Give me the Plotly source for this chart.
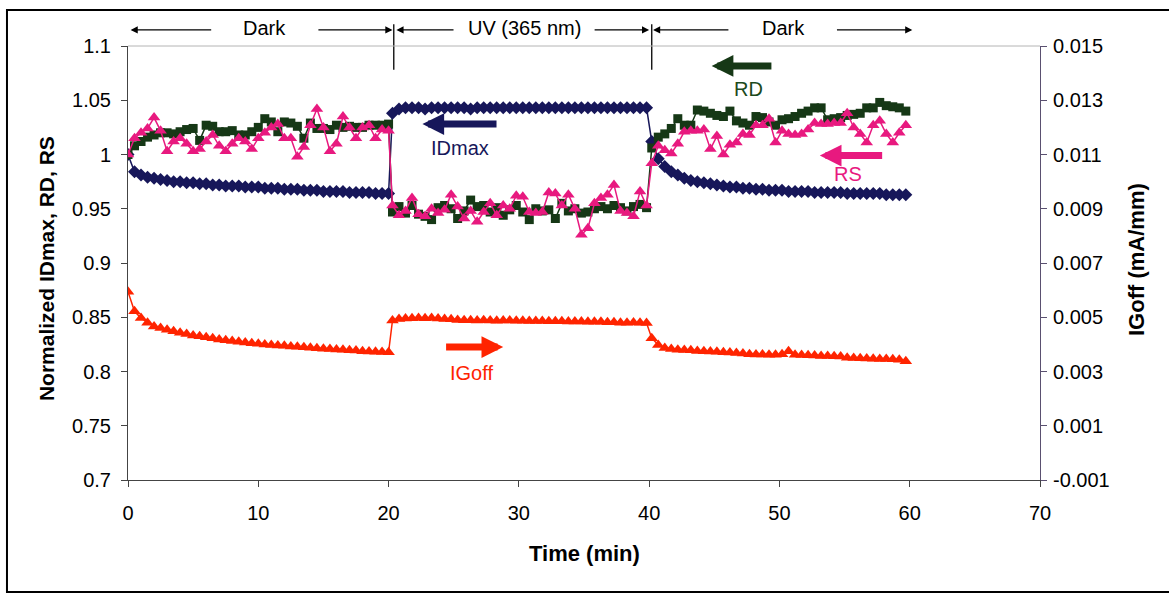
import plotly.graph_objects as go

# ---- sampling times (min) for the three phases: dark / UV (365 nm) / dark ----
t_dark1 = [0.0, 0.5, 1.0, 1.5, 2.0, 2.5, 3.0, 3.5, 4.0, 4.5, 5.0, 5.5, 6.0, 6.5, 7.0, 7.5,
           8.0, 8.5, 9.0, 9.5, 10.0, 10.5, 11.0, 11.5, 12.0, 12.5, 13.0, 13.5, 14.0, 14.5,
           15.0, 15.5, 16.0, 16.5, 17.0, 17.5, 18.0, 18.5, 19.0, 19.5, 20.0]
t_uv = [20.3, 20.8, 21.3, 21.8, 22.3, 22.8, 23.3, 23.8, 24.3, 24.8, 25.3, 25.8, 26.3, 26.8,
        27.3, 27.8, 28.3, 28.8, 29.3, 29.8, 30.3, 30.8, 31.3, 31.8, 32.3, 32.8, 33.3, 33.8,
        34.3, 34.8, 35.3, 35.8, 36.3, 36.8, 37.3, 37.8, 38.3, 38.8, 39.3, 39.8]
t_dark2 = [40.2, 40.7, 41.2, 41.7, 42.2, 42.7, 43.2, 43.7, 44.2, 44.7, 45.2, 45.7, 46.2, 46.7,
           47.2, 47.7, 48.2, 48.7, 49.2, 49.7, 50.2, 50.7, 51.2, 51.7, 52.2, 52.7, 53.2, 53.7,
           54.2, 54.7, 55.2, 55.7, 56.2, 56.7, 57.2, 57.7, 58.2, 58.7, 59.2, 59.7]

# ---- normalized IDmax ----
idmax_dark1 = [1.000, 0.984, 0.981, 0.979, 0.978, 0.977, 0.976, 0.975, 0.975, 0.974, 0.974,
               0.973, 0.973, 0.972, 0.972, 0.971, 0.971, 0.971, 0.970, 0.970, 0.970, 0.969,
               0.969, 0.969, 0.968, 0.968, 0.968, 0.967, 0.967, 0.967, 0.966, 0.966, 0.966,
               0.966, 0.965, 0.965, 0.965, 0.965, 0.964, 0.964, 0.964]
idmax_uv = [1.038, 1.042, 1.043, 1.043, 1.043, 1.042, 1.043, 1.043, 1.043, 1.043,
            1.043, 1.043, 1.042, 1.043, 1.043, 1.043, 1.043, 1.043, 1.043, 1.043,
            1.043, 1.043, 1.043, 1.043, 1.043, 1.043, 1.043, 1.043, 1.043, 1.043,
            1.043, 1.043, 1.043, 1.043, 1.043, 1.043, 1.043, 1.043, 1.043, 1.043]
idmax_dark2 = [1.012, 0.996, 0.989, 0.984, 0.981, 0.978, 0.976, 0.975, 0.974, 0.973,
               0.972, 0.971, 0.970, 0.970, 0.969, 0.969, 0.968, 0.968, 0.967, 0.967,
               0.967, 0.966, 0.966, 0.966, 0.966, 0.965, 0.965, 0.965, 0.965, 0.965,
               0.964, 0.964, 0.964, 0.964, 0.964, 0.964, 0.963, 0.963, 0.963, 0.963]

# ---- normalized RD ----
rd_dark1 = [1.000, 1.008, 1.012, 1.016, 1.018, 1.020, 1.020, 1.019, 1.021, 1.023, 1.024,
            1.013, 1.027, 1.026, 1.021, 1.021, 1.022, 1.018, 1.018, 1.021, 1.025, 1.033,
            1.030, 1.021, 1.030, 1.029, 1.026, 1.015, 1.029, 1.024, 1.024, 1.023, 1.027,
            1.025, 1.026, 1.025, 1.025, 1.027, 1.027, 1.027, 1.028]
rd_uv = [0.947, 0.952, 0.946, 0.953, 0.945, 0.943, 0.940, 0.951, 0.953, 0.950,
         0.941, 0.948, 0.958, 0.952, 0.953, 0.947, 0.951, 0.944, 0.949, 0.953,
         0.947, 0.940, 0.950, 0.948, 0.949, 0.941, 0.955, 0.948, 0.950, 0.946,
         0.947, 0.950, 0.952, 0.950, 0.953, 0.951, 0.948, 0.952, 0.954, 0.951]
rd_dark2 = [1.006, 1.016, 1.019, 1.024, 1.033, 1.027, 1.027, 1.041, 1.040, 1.038,
            1.036, 1.035, 1.040, 1.031, 1.029, 1.027, 1.035, 1.034, 1.030, 1.027,
            1.032, 1.033, 1.035, 1.038, 1.040, 1.043, 1.043, 1.032, 1.033, 1.034,
            1.036, 1.037, 1.038, 1.043, 1.043, 1.048, 1.045, 1.044, 1.043, 1.040]

# ---- normalized RS ----
rs_dark1 = [1.000, 1.015, 1.020, 1.024, 1.034, 1.022, 1.003, 1.012, 1.015, 1.010, 1.003,
            1.005, 1.012, 1.018, 1.008, 1.003, 1.010, 1.015, 1.012, 1.005, 1.015, 1.020,
            1.025, 1.028, 1.015, 1.015, 0.998, 1.007, 1.027, 1.042, 1.025, 1.003, 1.010,
            1.035, 1.025, 1.015, 1.025, 1.027, 1.015, 1.023, 1.022]
rs_uv = [0.953, 0.944, 0.948, 0.960, 0.945, 0.943, 0.950, 0.946, 0.949, 0.963,
         0.952, 0.941, 0.948, 0.938, 0.947, 0.955, 0.944, 0.953, 0.950, 0.962,
         0.961, 0.947, 0.946, 0.947, 0.965, 0.964, 0.953, 0.963, 0.950, 0.926,
         0.932, 0.955, 0.960, 0.963, 0.972, 0.948, 0.946, 0.943, 0.966, 0.953]
rs_dark2 = [0.992, 1.008, 1.004, 1.001, 1.010, 1.021, 1.022, 1.022, 1.023, 1.005,
            1.017, 1.000, 1.009, 1.011, 1.019, 1.018, 1.027, 1.027, 1.033, 1.011,
            1.022, 1.019, 1.018, 1.019, 1.023, 1.029, 1.028, 1.028, 1.029, 1.029,
            1.038, 1.025, 1.019, 1.011, 1.027, 1.031, 1.019, 1.011, 1.020, 1.027]

# ---- IGoff (mA/mm), right axis ----
igoff_dark1 = [0.00594, 0.00522, 0.00497, 0.00480, 0.00466, 0.00460, 0.00454, 0.00448,
               0.00443, 0.00438, 0.00433, 0.00430, 0.00426, 0.00423, 0.00418, 0.00415,
               0.00412, 0.00410, 0.00407, 0.00404, 0.00402, 0.00400, 0.00398, 0.00396,
               0.00395, 0.00392, 0.00391, 0.00389, 0.00388, 0.00386, 0.00384, 0.00383,
               0.00381, 0.00380, 0.00378, 0.00377, 0.00375, 0.00374, 0.00373, 0.00372,
               0.00371]
igoff_uv = [0.00488, 0.00494, 0.00495, 0.00496, 0.00497, 0.00496, 0.00497, 0.00495,
            0.00494, 0.00493, 0.00490, 0.00489, 0.00489, 0.00488, 0.00489, 0.00488,
            0.00487, 0.00488, 0.00488, 0.00487, 0.00487, 0.00486, 0.00486, 0.00486,
            0.00485, 0.00485, 0.00485, 0.00484, 0.00484, 0.00484, 0.00483, 0.00483,
            0.00483, 0.00482, 0.00482, 0.00480, 0.00480, 0.00481, 0.00480, 0.00479]
igoff_dark2 = [0.00423, 0.00398, 0.00387, 0.00383, 0.00380, 0.00379, 0.00378, 0.00376,
               0.00375, 0.00374, 0.00373, 0.00371, 0.00370, 0.00368, 0.00366, 0.00364,
               0.00363, 0.00363, 0.00362, 0.00362, 0.00364, 0.00375, 0.00362, 0.00361,
               0.00360, 0.00359, 0.00357, 0.00357, 0.00356, 0.00355, 0.00351, 0.00350,
               0.00349, 0.00348, 0.00347, 0.00346, 0.00346, 0.00345, 0.00343, 0.00338]

# ---- axis tick labels ----
y_ticks = [0.7, 0.75, 0.8, 0.85, 0.9, 0.95, 1.0, 1.05, 1.1]
y_ticktext = ["0.7", "0.75", "0.8", "0.85", "0.9", "0.95", "1", "1.05", "1.1"]
y2_ticks = [-0.001, 0.001, 0.003, 0.005, 0.007, 0.009, 0.011, 0.013, 0.015]
y2_ticktext = ["-0.001", "0.001", "0.003", "0.005", "0.007", "0.009", "0.011", "0.013", "0.015"]
x_ticks = [0, 10, 20, 30, 40, 50, 60, 70]

time = t_dark1 + t_uv + t_dark2
idmax = idmax_dark1 + idmax_uv + idmax_dark2
rd = rd_dark1 + rd_uv + rd_dark2
rs = rs_dark1 + rs_uv + rs_dark2
igoff = igoff_dark1 + igoff_uv + igoff_dark2
for s in (idmax, rd, rs, igoff):
    assert len(s) == len(time)

NAVY = "#17175a"
GREEN = "#163816"
PINK = "#e8197f"
RED = "#ff2400"
FONT = "Liberation Sans, Arial, sans-serif"

fig = go.Figure()
fig.add_trace(go.Scatter(x=time, y=idmax, name="IDmax", mode="lines+markers",
                         line=dict(color=NAVY, width=1.5),
                         marker=dict(symbol="diamond", size=10, color=NAVY)))
fig.add_trace(go.Scatter(x=time, y=rd, name="RD", mode="lines+markers",
                         line=dict(color=GREEN, width=1.5),
                         marker=dict(symbol="square", size=9, color=GREEN)))
fig.add_trace(go.Scatter(x=time, y=rs, name="RS", mode="lines+markers",
                         line=dict(color=PINK, width=1.5),
                         marker=dict(symbol="triangle-up", size=11, color=PINK)))
fig.add_trace(go.Scatter(x=time, y=igoff, name="IGoff", mode="lines+markers", yaxis="y2",
                         line=dict(color=RED, width=1.5),
                         marker=dict(symbol="triangle-up", size=11, color=RED)))

annotations = []

# phase labels with their arrows along the top
PHASE_Y = 1.037
def phase_arrow(head, tail):
    annotations.append(dict(text="", x=head, ax=tail, xref="x", axref="x",
                            y=PHASE_Y, yref="paper", ay=0, ayref="pixel",
                            showarrow=True, arrowhead=2, arrowsize=1.1,
                            arrowwidth=1.3, arrowcolor="black"))

for label, xc in [("Dark", 10.45), ("UV (365 nm)", 30.4), ("Dark", 50.3)]:
    annotations.append(dict(text=label, x=xc, y=1.041, xref="x", yref="paper",
                            xanchor="center", yanchor="middle",
                            showarrow=False, font=dict(size=20, color="black")))
phase_arrow(0.2, 6.5)
phase_arrow(20.3, 14.5)
phase_arrow(20.6, 25.1)
phase_arrow(40.0, 35.7)
phase_arrow(40.3, 46.2)
phase_arrow(60.2, 54.3)

# series labels with thick pointer arrows
def pointer(head, tail, yv, color, yaxis="y"):
    annotations.append(dict(text="", x=head, ax=tail, xref="x", axref="x",
                            y=yv, yref=yaxis, ay=0, ayref="pixel",
                            showarrow=True, arrowhead=2, arrowsize=0.62,
                            arrowwidth=7, arrowcolor=color))

pointer(44.8, 49.5, 1.0816, GREEN)
pointer(53.1, 58.0, 0.9990, PINK)
pointer(22.6, 28.4, 1.0280, NAVY)
pointer(28.8, 24.3, 0.8225, RED)
for label, xc, yv, color in [("RD", 47.6, 1.0604, "#1c4a1c"), ("RS", 55.3, 0.9820, PINK),
                             ("IDmax", 25.5, 1.0060, NAVY), ("IGoff", 26.4, 0.7986, RED)]:
    annotations.append(dict(text=label, x=xc, y=yv, xref="x", yref="y", showarrow=False,
                            xanchor="center", yanchor="middle",
                            font=dict(size=20, color=color)))

# axis titles
annotations.append(dict(text="<b>Normalized IDmax, RD, RS</b>", x=-0.0899, y=0.486,
                        xref="paper", yref="paper", textangle=-90, showarrow=False,
                        xanchor="center", yanchor="middle",
                        font=dict(size=21, color="black")))
annotations.append(dict(text="<b>Time (min)</b>", x=0.5, y=-0.1705, xref="paper",
                        yref="paper", showarrow=False, xanchor="center", yanchor="middle",
                        font=dict(size=22, color="black")))
annotations.append(dict(text="<b>IGoff (mA/mm)</b>", x=1.1064, y=0.507, xref="paper",
                        yref="paper", textangle=-90, showarrow=False,
                        xanchor="center", yanchor="middle",
                        font=dict(size=22, color="black")))

shapes = [
    # phase boundaries
    dict(type="line", xref="x", yref="paper", x0=20.4, x1=20.4, y0=0.945, y1=1.05,
         line=dict(color="black", width=1.3)),
    dict(type="line", xref="x", yref="paper", x0=40.2, x1=40.2, y0=0.945, y1=1.05,
         line=dict(color="black", width=1.3)),
    # top edge of the plot area
    dict(type="line", xref="paper", yref="paper", x0=0, x1=1, y0=1, y1=1,
         line=dict(color="#b4b4b4", width=1)),
    # outer frame
    dict(type="rect", xref="paper", yref="paper", x0=-0.1327, x1=1.145,
         y0=-0.258, y1=1.0829, line=dict(color="black", width=2)),
]

axis_common = dict(showgrid=False, zeroline=False, showline=True, ticks="outside",
                   ticklen=6, tickwidth=1, tickfont=dict(size=20, color="black"))

fig.update_layout(
    width=1169, height=595,
    margin=dict(l=128, r=129, t=46, b=115),
    paper_bgcolor="white", plot_bgcolor="white",
    font=dict(family=FONT, color="black"),
    showlegend=False,
    xaxis=dict(range=[0, 70], tickvals=x_ticks, linecolor="#444444",
               tickcolor="#444444", ticklabelstandoff=9, **axis_common),
    yaxis=dict(range=[0.7, 1.1], tickvals=y_ticks, ticktext=y_ticktext,
               linecolor="#444444", tickcolor="#444444", ticklabelstandoff=6,
               **axis_common),
    yaxis2=dict(range=[-0.001, 0.015], tickvals=y2_ticks, ticktext=y2_ticktext,
                overlaying="y", side="right", linecolor="#5a5070", tickcolor="#5a5070",
                ticklabelstandoff=2, **axis_common),
    annotations=annotations,
    shapes=shapes,
)

fig.write_html("out.html")
